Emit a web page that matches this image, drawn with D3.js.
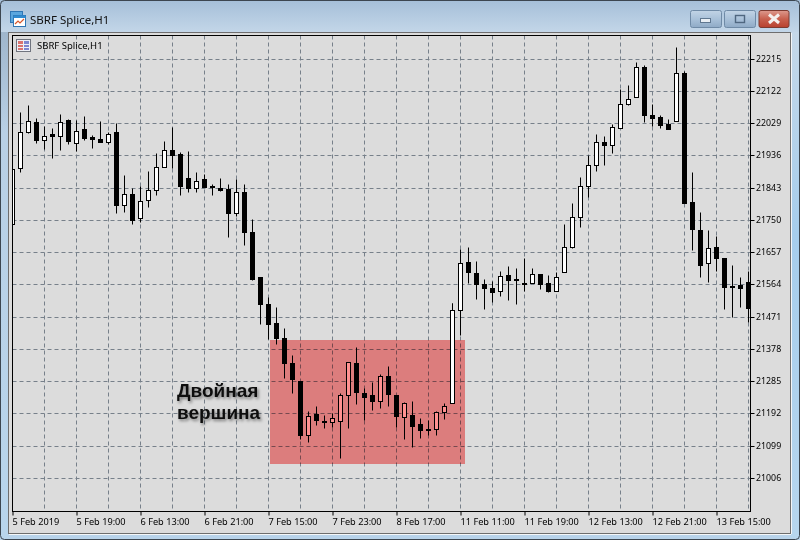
<!DOCTYPE html>
<html>
<head>
<meta charset="utf-8">
<script src="https://cdn.jsdelivr.net/npm/d3@7"></script>
<style>
  html, body { margin: 0; padding: 0; background: #fff; }
  svg { display: block; }
  text { font-family: "Noto Sans", sans-serif; }
</style>
</head>
<body>
<div id="chart"></div>
<script>
const TITLE = 'SBRF Splice,H1'
const NOTE_LINES = ['Двойная', 'вершина']

const opens = [21739,21900,22003,22033,21980,21997,21992,22037,21973,22011,21988,21984,21974,22005,21793,21826,21755,21807,21836,21902,21952,21941,21872,21842,21867,21849,21843,21838,21769,21832,21714,21584,21508,21454,21410,21338,21286,21130,21191,21170,21166,21170,21245,21338,21251,21245,21227,21300,21245,21181,21186,21162,21148,21146,21195,21222,21490,21630,21598,21564,21555,21544,21590,21581,21569,21568,21595,21569,21544,21599,21673,21758,21847,21908,21976,21966,22016,22084,22104,22192,22054,22046,22028,22035,22175,21802,21722,21625,21673,21641,21558,21561,21570]
const highs = [21898,22062,22083,22045,22020,22016,22057,22040,22038,22051,21994,22036,22005,22029,21881,21842,21849,21890,21944,21978,22017,21947,21948,21887,21884,21855,21870,21855,21868,21855,21753,21584,21528,21499,21439,21361,21286,21200,21212,21186,21192,21251,21341,21384,21266,21281,21306,21329,21246,21224,21228,21179,21174,21200,21222,21511,21665,21671,21633,21581,21575,21604,21616,21610,21639,21610,21595,21590,21600,21737,21800,21875,21936,21999,21991,22028,22128,22138,22207,22198,22086,22054,22042,22250,22180,21889,21773,21720,21705,21641,21619,21584,21604]
const lows = [21739,21888,22000,21971,21955,21928,21953,21969,21948,21982,21959,21974,21970,21769,21772,21737,21745,21787,21823,21902,21899,21823,21832,21832,21844,21823,21833,21702,21761,21677,21578,21449,21407,21391,21293,21250,21118,21109,21158,21149,21153,21062,21149,21220,21172,21203,21207,21213,21153,21117,21094,21122,21129,21129,21177,21222,21417,21567,21523,21492,21513,21530,21518,21507,21546,21568,21550,21542,21544,21599,21668,21729,21816,21891,21908,21942,22016,22082,22104,22034,22020,22015,22013,22035,21798,21663,21585,21570,21602,21492,21471,21498,21455]
const closes = [21898,22004,22036,21980,21993,21992,22033,21977,22007,21987,21983,21974,21999,21792,21825,21751,21805,21837,21903,21952,21937,21849,21842,21863,21846,21845,21836,21769,21831,21715,21581,21507,21449,21409,21337,21290,21129,21185,21172,21168,21179,21245,21341,21253,21239,21227,21300,21247,21184,21221,21155,21143,21143,21196,21214,21490,21626,21599,21565,21553,21542,21589,21576,21576,21564,21595,21565,21544,21586,21673,21759,21849,21909,21975,21966,22019,22085,22100,22192,22052,22044,22025,22013,22175,21800,21723,21619,21670,21640,21556,21556,21553,21495]

const price_ticks = [22215,22122,22029,21936,21843,21750,21657,21564,21471,21378,21285,21192,21099,21006]
const grid_bars = [0,4,8,12,16,20,24,28,32,36,40,44,48,52,56,60,64,68,72,76,80,84,88,92]
const label_bars = [0,8,16,24,32,40,48,56,64,72,80,88]
const time_labels = ['5 Feb 2019','5 Feb 19:00','6 Feb 13:00','6 Feb 21:00','7 Feb 15:00','7 Feb 23:00','8 Feb 17:00','11 Feb 11:00','11 Feb 19:00','12 Feb 13:00','12 Feb 21:00','13 Feb 15:00']
// candle that sits in front of the red box in the screenshot
const above_box = [55]

const width = 800, height = 540
const plot = {left: 12.5, right: 750.5, top: 35.5, bottom: 511.5}

const svg = d3.select('#chart').append('svg')
  .attr('width', width)
  .attr('height', height)

const defs = svg.append('defs')

function gradient(id, stops, horizontal) {
  const g = defs.append('linearGradient')
    .attr('id', id)
    .attr('x1', 0).attr('y1', 0)
    .attr('x2', horizontal ? 1 : 0).attr('y2', horizontal ? 0 : 1)
  stops.forEach(s => g.append('stop').attr('offset', s[0]).attr('stop-color', s[1]))
}
gradient('titlebar', [[0, '#a5bfd8'], [1, '#c3d6e8']])
gradient('sideframe', [[0, '#9fb6cc'], [0.2, '#b9d0e5'], [1, '#b8d5ec']])
gradient('rightframe', [[0, '#c5d8e9'], [0.4, '#a6cdec'], [1, '#b7d6ee']])
gradient('btn', [[0, '#c2d4e6'], [0.5, '#a9c1d9'], [1, '#8faac6']])
gradient('btnclose', [[0, '#dd9a8e'], [0.5, '#c8604e'], [1, '#b8402e']])

defs.append('clipPath').attr('id', 'plot-clip').append('rect')
  .attr('x', plot.left).attr('y', plot.top)
  .attr('width', plot.right - plot.left).attr('height', plot.bottom - plot.top)

defs.append('filter').attr('id', 'note-shadow')
  .attr('x', '-20%').attr('y', '-30%').attr('width', '140%').attr('height', '170%')
  .append('feDropShadow')
  .attr('dx', 1.5).attr('dy', 2).attr('stdDeviation', 1.8)
  .attr('flood-color', '#000').attr('flood-opacity', 0.45)

// window chrome
const chrome = svg.append('g').attr('class', 'chrome')
chrome.append('rect').attr('width', width).attr('height', height).attr('fill', '#b8d3ea')
chrome.append('rect').attr('x', 0).attr('y', 0).attr('width', width).attr('height', 32).attr('fill', 'url(#titlebar)')
chrome.append('rect').attr('x', 0).attr('y', 32).attr('width', 8).attr('height', 506).attr('fill', 'url(#sideframe)')
chrome.append('rect').attr('x', 791).attr('y', 32).attr('width', 9).attr('height', 506).attr('fill', 'url(#rightframe)')
chrome.append('rect').attr('x', 0.5).attr('y', 0.5).attr('width', 799).attr('height', 539)
  .attr('rx', 4).attr('fill', 'none').attr('stroke', '#3c4650')
chrome.append('rect').attr('x', 8.5).attr('y', 32.5).attr('width', 782).attr('height', 501)
  .attr('fill', '#dcdcdc').attr('stroke', '#6e6e6e')
chrome.append('line').attr('x1', 9).attr('x2', 791).attr('y1', 534.5).attr('y2', 534.5).attr('stroke', '#f4f6f8')
chrome.append('line').attr('x1', 791.5).attr('x2', 791.5).attr('y1', 33).attr('y2', 534).attr('stroke', '#f4f6f8')

// title bar icon and caption
const win_icon = chrome.append('g').attr('transform', 'translate(10,11)')
win_icon.append('rect').attr('x', 0.5).attr('y', 0.5).attr('width', 12).attr('height', 11).attr('fill', '#5aa6de').attr('stroke', '#2f76b5')
win_icon.append('rect').attr('x', 3.5).attr('y', 4.5).attr('width', 12).attr('height', 11).attr('fill', '#fff').attr('stroke', '#2f76b5')
win_icon.append('rect').attr('x', 3.5).attr('y', 4.5).attr('width', 12).attr('height', 2.5).attr('fill', '#2f8ad0')
win_icon.append('path').attr('d', 'M5 13 L8 10 L10 12 L14 8').attr('fill', 'none').attr('stroke', '#d8562a').attr('stroke-width', 1.2)

chrome.append('text')
  .attr('x', 30).attr('y', 24)
  .attr('font-size', 11.5).attr('fill', '#111')
  .text(TITLE)

const buttons = [
  {x: 690.5, w: 31, fill: 'url(#btn)', stroke: '#6f8aa6'},
  {x: 724.5, w: 31, fill: 'url(#btn)', stroke: '#6f8aa6'},
  {x: 759, w: 30, fill: 'url(#btnclose)', stroke: '#7d3a30'}
]
chrome.selectAll('.winbtn').data(buttons).enter().append('rect')
  .attr('class', 'winbtn')
  .attr('x', d => d.x).attr('y', 10.5)
  .attr('width', d => d.w).attr('height', 17)
  .attr('rx', 2)
  .attr('fill', d => d.fill).attr('stroke', d => d.stroke)
chrome.append('rect').attr('x', 700.5).attr('y', 18.5).attr('width', 10).attr('height', 4)
  .attr('fill', '#e8eef4').attr('stroke', '#5f7790')
chrome.append('rect').attr('x', 735.5).attr('y', 15.5).attr('width', 9).attr('height', 7)
  .attr('fill', 'none').attr('stroke', '#4f6780').attr('stroke-width', 1.4)
chrome.append('path').attr('d', 'M769 14.5 L779 23 M779 14.5 L769 23')
  .attr('stroke', '#f4f0ee').attr('stroke-width', 3)

// scales
const x = d3.scaleLinear().domain([0, 92]).range([plot.left, plot.left + 92 * 8])
const y = d3.scaleLinear().domain([22215, 21006]).range([59.3, 478.3])
const py = v => Math.round(y(v) - 0.5) + 0.5

// grid
const grid = svg.append('g').attr('class', 'grid')
  .attr('stroke', '#77808a').attr('stroke-dasharray', '4,3').attr('stroke-width', 1)
grid.selectAll('.vgrid').data(grid_bars).enter().append('line')
  .attr('class', 'vgrid')
  .attr('x1', d => x(d)).attr('x2', d => x(d))
  .attr('y1', plot.top).attr('y2', plot.bottom)
grid.selectAll('.hgrid').data(price_ticks).enter().append('line')
  .attr('class', 'hgrid')
  .attr('x1', plot.left).attr('x2', plot.right)
  .attr('y1', py).attr('y2', py)

// candles
const candles = opens.map((o, i) => ({i: i, open: o, high: highs[i], low: lows[i], close: closes[i]}))

function drawCandles(sel) {
  sel.append('line')
    .attr('x1', d => x(d.i)).attr('x2', d => x(d.i))
    .attr('y1', d => py(d.high)).attr('y2', d => py(d.low))
    .attr('stroke', '#000')
  sel.append('rect')
    .attr('x', d => x(d.i) - 2)
    .attr('y', d => py(Math.max(d.open, d.close)))
    .attr('width', 4)
    .attr('height', d => Math.max(py(Math.min(d.open, d.close)) - py(Math.max(d.open, d.close)), 1))
    .attr('fill', d => d.close >= d.open ? '#fff' : '#000')
    .attr('stroke', '#000')
}

const candle_layer = svg.append('g').attr('clip-path', 'url(#plot-clip)')
candle_layer.selectAll('.candle').data(candles).enter().append('g')
  .attr('class', 'candle')
  .call(drawCandles)

// red box, multiplied so the black bodies stay black and the white ones go pink
svg.append('rect')
  .attr('x', x(32) + 1.5).attr('y', 340)
  .attr('width', 195).attr('height', 124)
  .attr('fill', '#ff9191')
  .style('mix-blend-mode', 'multiply')

svg.append('g').selectAll('.candle-top').data(candles.filter(d => above_box.includes(d.i))).enter().append('g')
  .attr('class', 'candle-top')
  .call(drawCandles)

// plot border
svg.append('rect')
  .attr('x', plot.left).attr('y', plot.top)
  .attr('width', plot.right - plot.left).attr('height', plot.bottom - plot.top)
  .attr('fill', 'none').attr('stroke', '#000')

// axes
const price_axis = d3.axisRight(y).tickValues(price_ticks).tickFormat(d3.format('d')).tickSize(4).tickPadding(1.5)
const price_g = svg.append('g')
  .attr('transform', `translate(${plot.right},0)`)
  .call(price_axis)
  .call(g => g.select('.domain').remove())
price_g.selectAll('.tick').attr('transform', d => `translate(0,${py(d)})`)
price_g.selectAll('text').attr('font-family', null).attr('font-size', 8.8).attr('fill', '#000')

const time_axis = d3.axisBottom(x).tickValues(label_bars).tickFormat((d, i) => time_labels[i]).tickSize(4).tickPadding(3)
const time_g = svg.append('g')
  .attr('transform', `translate(0,${plot.bottom})`)
  .call(time_axis)
  .call(g => g.select('.domain').remove())
time_g.selectAll('text').attr('text-anchor', 'start').attr('font-size', 9.2).attr('fill', '#000').attr('dx', -0.5)

// chart sub window label
const sub_icon = svg.append('g').attr('transform', 'translate(16,39)')
sub_icon.append('rect').attr('x', 0.5).attr('y', 0.5).attr('width', 14).attr('height', 12).attr('fill', '#eef0f6').attr('stroke', '#70747e')
sub_icon.append('rect').attr('x', 2).attr('y', 2).attr('width', 5).attr('height', 9).attr('fill', '#d9736f')
sub_icon.append('rect').attr('x', 8).attr('y', 2).attr('width', 5).attr('height', 9).attr('fill', '#7d86cf')
sub_icon.append('path').attr('d', 'M2 5.5 H13 M2 8.5 H13').attr('stroke', '#eef0f6').attr('stroke-width', 1)

svg.append('text')
  .attr('x', 37).attr('y', 48.5)
  .attr('font-size', 9.5).attr('fill', '#000')
  .text(TITLE)

// annotation
svg.append('g')
  .attr('filter', 'url(#note-shadow)')
  .selectAll('text').data(NOTE_LINES).enter().append('text')
  .attr('x', 177)
  .attr('y', (d, i) => 397 + i * 22)
  .attr('font-size', 19)
  .attr('font-weight', 'bold')
  .attr('fill', '#111')
  .style('font-family', '"Liberation Sans", sans-serif')
  .text(d => d)
</script>
</body>
</html>
